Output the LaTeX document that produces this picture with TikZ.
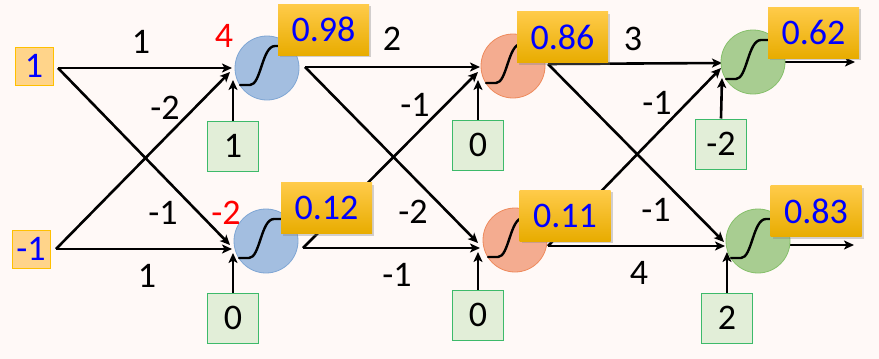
\documentclass[tikz,border=0pt]{standalone}
\usepackage{fontspec}
\setmainfont{Carlito}
\usetikzlibrary{arrows.meta,shadows}
\definecolor{bgc}{HTML}{FFF9F7}
\definecolor{bluefill}{HTML}{A3BEE0}
\definecolor{blueline}{HTML}{7FA6D4}
\definecolor{orfill}{HTML}{F4AC90}
\definecolor{orline}{HTML}{EE8A5C}
\definecolor{grfill}{HTML}{A8CD91}
\definecolor{grline}{HTML}{86C06B}
\definecolor{biasfill}{HTML}{E2EED8}
\definecolor{biasline}{HTML}{3DBA6A}
\definecolor{goldtop}{HTML}{FFCB4A}
\definecolor{goldmid}{HTML}{FFC000}
\definecolor{goldbot}{HTML}{E8AC00}
\definecolor{inpfill}{HTML}{FFD48A}
\definecolor{inpline}{HTML}{FFC000}
\begin{document}
\begin{tikzpicture}[x=1pt,y=-1pt,
  txt/.style={font=\fontsize{36}{40}\selectfont},
  conn/.style={line width=2.6pt,-{Stealth[length=10pt,width=9pt,inset=2.5pt]}},
  neuron/.style={circle,minimum size=64pt,inner sep=0pt,line width=0.8pt},
  blueN/.style={neuron,draw=blueline,fill=bluefill},
  orN/.style={neuron,draw=orline,fill=orfill},
  grN/.style={neuron,draw=grline,fill=grfill},
  biasbox/.style={txt,draw=biasline,fill=biasfill,line width=1pt,minimum width=51pt,minimum height=50pt,inner sep=0pt},
  inbox/.style={txt,text=blue,draw=inpline,fill=inpfill,line width=1pt,minimum width=38pt,minimum height=38pt,inner sep=0pt},
  outbox/.style={txt,text=blue,top color=goldtop,middle color=goldmid,bottom color=goldbot,minimum width=91pt,minimum height=51pt,inner sep=0pt,drop shadow={opacity=0.35,shadow xshift=2pt,shadow yshift=-2pt}},
  wlabel/.style={txt},
  rlabel/.style={txt,text=red},
  sig/.style={line width=2.4pt,line cap=round}
]
\fill[bgc] (0,0) rectangle (879,359);
\useasboundingbox (0,0) rectangle (879,359);

% inputs
\node[inbox] (in1) at (34,66) {1};
\node[inbox] (in2) at (31,249) {-1};

% connection coordinates
\coordinate (s1) at (58,68);
\coordinate (s2) at (56,249);
\coordinate (t11h) at (232,68);
\coordinate (t11d) at (230,72);
\coordinate (t11b) at (233,80);
\coordinate (t12h) at (232,249);
\coordinate (t12d) at (230,245);
\coordinate (t12b) at (233,253);

\coordinate (o1) at (305,67);
\coordinate (o2) at (303,248);
\coordinate (t21h) at (480,67);
\coordinate (t21d) at (478,72);
\coordinate (t21b) at (478,80);
\coordinate (t22h) at (480,248);
\coordinate (t22d) at (478,243);
\coordinate (t22b) at (478,252);

\coordinate (p1) at (548,64);
\coordinate (p2) at (548,246);
\coordinate (t31h) at (722,63);
\coordinate (t31d) at (721,68);
\coordinate (t31b) at (722,78);
\coordinate (t32h) at (725,246);
\coordinate (t32d) at (724,242);
\coordinate (t32b) at (727,252);

\coordinate (q1) at (785,62);
\coordinate (q2) at (790,245);
\coordinate (e1) at (855,62);
\coordinate (e2) at (854,245);

% bias boxes
\node[biasbox] (b11) at (233,146) {1};
\node[biasbox] (b12) at (233,318) {0};
\node[biasbox] (b21) at (478,145) {0};
\node[biasbox] (b22) at (478,315) {0};
\node[biasbox] (b31) at (721,144) {-2};
\node[biasbox] (b32) at (727,318) {2};

% connectors layer 1
\draw[conn] (s1) -- (t11h);
\draw[conn] (s1) -- (t12d);
\draw[conn] (s2) -- (t11d);
\draw[conn] (s2) -- (t12h);
\draw[conn] (b11.north) -- (t11b);
\draw[conn] (b12.north) -- (t12b);
% layer 2
\draw[conn] (o1) -- (t21h);
\draw[conn] (o1) -- (t22d);
\draw[conn] (o2) -- (t21d);
\draw[conn] (o2) -- (t22h);
\draw[conn] (b21.north) -- (t21b);
\draw[conn] (b22.north) -- (t22b);
% layer 3
\draw[conn] (p1) -- (t31h);
\draw[conn] (p1) -- (t32d);
\draw[conn] (p2) -- (t31d);
\draw[conn] (p2) -- (t32h);
\draw[conn] (b31.north) -- (t31b);
\draw[conn] (b32.north) -- (t32b);
% outputs
\draw[conn] (q1) -- (e1);
\draw[conn] (q2) -- (e2);

% neurons
\node[blueN] (n11) at (267,68) {};
\node[blueN] (n12) at (266,241) {};
\node[orN] (n21) at (513,66) {};
\node[orN] (n22) at (515,240) {};
\node[grN] (n31) at (753,62) {};
\node[grN] (n32) at (758,241) {};

% sigmoid curves
\foreach \n in {n11,n12,n21,n22,n31,n32}{
  \draw[sig] ([shift={(-27,17)}]\n.center) -- ([shift={(-17,17)}]\n.center) .. controls ([shift={(-6,17)}]\n.center) and ([shift={(-5,-22)}]\n.center) .. ([shift={(8,-22)}]\n.center) -- ([shift={(24,-22)}]\n.center);
}

% weight labels
\node[wlabel] (w1) at (141,42) {1};
\node[wlabel] (w2) at (165,108) {-2};
\node[wlabel] (w3) at (163,213) {-1};
\node[wlabel] (w4) at (147,276) {1};
\node[rlabel] (z1) at (224,36) {4};
\node[rlabel] (z2) at (226,213) {-2};

\node[wlabel] (w5) at (392,39) {2};
\node[wlabel] (w6) at (415,105) {-1};
\node[wlabel] (w7) at (413,212) {-2};
\node[wlabel] (w8) at (397,275) {-1};

\node[wlabel] (w9) at (633,39) {3};
\node[wlabel] (w10) at (657,103) {-1};
\node[wlabel] (w11) at (656,210) {-1};
\node[wlabel] (w12) at (639,273) {4};

% output boxes
\node[outbox] (a11) at (323.5,29.5) {0.98};
\node[outbox] (a12) at (326.5,208) {0.12};
\node[outbox] (a21) at (562.5,37) {0.86};
\node[outbox] (a22) at (565,215.5) {0.11};
\node[outbox] (a31) at (813.5,32.5) {0.62};
\node[outbox] (a32) at (816,211) {0.83};
\end{tikzpicture}
\end{document}
